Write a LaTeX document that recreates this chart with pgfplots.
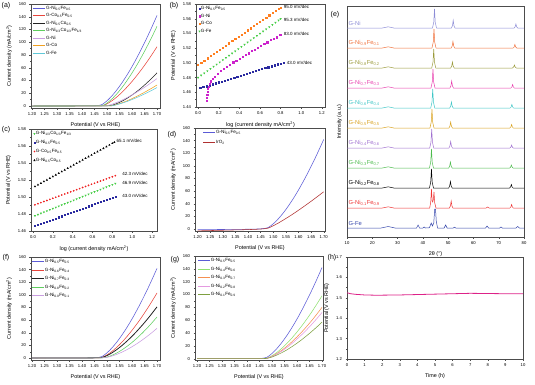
\documentclass[border=0pt]{standalone}
\usepackage{fontspec}
\setmainfont{Liberation Sans}
\usepackage{pgfplots}
\pgfplotsset{compat=1.18}
\newcommand\fs[1]{\fontsize{#1}{#1}\selectfont}
\newcommand\sub[1]{\textsubscript{#1}}
\definecolor{cNiFe}{HTML}{5B5BD6}
\definecolor{cCoFe}{HTML}{E8453C}
\definecolor{cNiCo}{HTML}{222222}
\definecolor{cNCF}{HTML}{5FCE5F}
\definecolor{cNi}{HTML}{C99DE0}
\definecolor{cCo}{HTML}{F0A020}
\definecolor{cFe}{HTML}{5FC8D8}
\definecolor{tNiFe}{HTML}{2A2AA0}
\definecolor{tNi}{HTML}{CC22CC}
\definecolor{tCo}{HTML}{FF7F20}
\definecolor{tFe}{HTML}{44CC44}
\definecolor{tCoFe}{HTML}{EE2222}
\definecolor{gGreen}{HTML}{90E070}
\definecolor{gOrange}{HTML}{F59050}
\definecolor{gPink}{HTML}{E49AE0}
\definecolor{gOlive}{HTML}{7EA040}
\definecolor{IrO}{HTML}{B03030}
\definecolor{x1}{HTML}{8C8CD6}
\definecolor{x2}{HTML}{F0703A}
\definecolor{x3}{HTML}{9A9A3A}
\definecolor{x4}{HTML}{E83FAE}
\definecolor{x5}{HTML}{3FC6C6}
\definecolor{x6}{HTML}{D9A21F}
\definecolor{x7}{HTML}{A070D0}
\definecolor{x8}{HTML}{4CBB4C}
\definecolor{x9}{HTML}{000000}
\definecolor{x10}{HTML}{EE3333}
\definecolor{x11}{HTML}{3344AA}
\definecolor{hmag}{HTML}{DD2288}
\tikzset{lab/.style={anchor=west, font=\fs{5.8}, inner sep=0pt},
  ann/.style={anchor=west, font=\fs{4.5}, inner sep=1pt}}
\pgfplotsset{
  panel/.style={
    scale only axis, anchor=north west,
    axis line style={black!70, line width=0.45pt},
    every tick/.style={black!70, line width=0.35pt},
    major tick length=1.5pt, minor tick length=0.9pt,
    tick align=outside,
    xtick pos=bottom, ytick pos=left,
    tick label style={font=\fs{4.2}},
    label style={font=\fs{5.4}},
    /pgf/number format/assume math mode=true,
    scaled ticks=false,
  },
  lsv/.style={
    ymax=160,
    xtick={1.20,1.25,1.30,1.35,1.40,1.45,1.50,1.55,1.60,1.65,1.70},
    ytick={0,20,40,60,80,100,120,140,160},
    minor x tick num=1, minor y tick num=1,
    xticklabel style={/pgf/number format/fixed, /pgf/number format/fixed zerofill, /pgf/number format/precision=2},
    xlabel={Potential (V vs RHE)},
    ylabel={Current density (mA/cm\textsuperscript{2})},
    every axis plot/.append style={line width=0.55pt, smooth, tension=0.4},
  },
  lleg/.style={
    legend cell align=left,
    legend style={draw=none, fill=none, anchor=north west, font=\fs{4.6},
      inner sep=0pt, row sep=#1,
      nodes={inner sep=0.5pt, text height=3.4pt, text depth=1.1pt}},
    legend image code/.code={\draw[##1, line width=0.6pt] (0pt,0pt) -- (12pt,0pt);},
  },
  mleg/.style={legend image code/.code={\draw[##1] plot coordinates {(2pt,0pt)};}},
  tafel/.style={
    xtick={0,0.2,0.4,0.6,0.8,1.0,1.2},
    ytick={1.44,1.46,1.48,1.50,1.52,1.54,1.56,1.58},
    minor x tick num=1, minor y tick num=1,
    xticklabel style={/pgf/number format/fixed, /pgf/number format/fixed zerofill, /pgf/number format/precision=1},
    yticklabel style={/pgf/number format/fixed, /pgf/number format/fixed zerofill, /pgf/number format/precision=2},
    xlabel={log (current density mA/cm\textsuperscript{2})},
    ylabel={Potential (V vs RHE)},
    legend cell align=left,
    legend style={draw=none, fill=none, anchor=north west, font=\fs{4.6},
      inner sep=0pt, nodes={inner sep=0.7pt, text height=3.4pt, text depth=1.1pt}},
  },
  sq/.style={only marks, mleg, mark=square*, mark size=0.6pt},
  tri/.style={only marks, mleg, mark=triangle*, mark size=0.85pt},
}
\begin{document}
\begin{tikzpicture}
\useasboundingbox (0,0) rectangle (535pt,-384pt);
%% (a)
\begin{axis}[panel, lsv, at={(31pt,-4pt)}, width=129pt, height=104pt,
  xmin=1.196, xmax=1.712, ymin=-3.1, lleg=2.0pt, legend style={at={(0.015,0.99)}}]
\addplot[cNiFe] coordinates {(1.20,0) (1.30,0.1) (1.40,0.2) (1.44,0.3) (1.46,0.6) (1.48,2.3) (1.50,8.2) (1.52,16.1) (1.54,25.6) (1.56,36.5) (1.58,48.6) (1.60,61.8) (1.62,76.1) (1.64,91.3) (1.66,107.3) (1.68,124.3) (1.70,142)};
\addlegendentry{G-Ni\sub{0.5}Fe\sub{0.5}}
\addplot[cCoFe] coordinates {(1.20,0) (1.40,0.1) (1.46,0.2) (1.48,0.4) (1.49,1.6) (1.50,3.4) (1.52,8.3) (1.54,14.4) (1.56,21.6) (1.58,29.7) (1.60,38.5) (1.62,48.1) (1.64,58.4) (1.66,69.3) (1.68,80.9) (1.70,93)};
\addlegendentry{G-Co\sub{0.5}Fe\sub{0.5}}
\addplot[cNiCo] coordinates {(1.20,0) (1.40,0.1) (1.48,0.2) (1.50,0.4) (1.52,1.3) (1.54,4.0) (1.56,7.6) (1.58,12.0) (1.60,17.2) (1.62,23.0) (1.64,29.4) (1.66,36.4) (1.68,43.9) (1.70,52)};
\addlegendentry{G-Ni\sub{0.5}Co\sub{0.5}}
\addplot[cNCF] coordinates {(1.20,0) (1.40,0.1) (1.46,0.2) (1.48,0.5) (1.49,2.0) (1.50,4.6) (1.52,11.2) (1.54,19.4) (1.56,29.0) (1.58,39.9) (1.60,51.8) (1.62,64.6) (1.64,78.5) (1.66,93.2) (1.68,108.7) (1.70,125)};
\addlegendentry{G-Ni\sub{1/3}Co\sub{1/3}Fe\sub{1/3}}
\addplot[cNi] coordinates {(1.20,0) (1.40,0.1) (1.48,0.2) (1.50,0.6) (1.52,2.8) (1.54,5.8) (1.56,9.2) (1.58,13.2) (1.60,17.4) (1.62,22.0) (1.64,26.8) (1.66,32.0) (1.68,37.4) (1.70,43)};
\addlegendentry{G-Ni}
\addplot[cCo] coordinates {(1.20,0) (1.40,0.1) (1.50,0.2) (1.52,0.5) (1.54,2.5) (1.56,5.1) (1.58,8.1) (1.60,11.6) (1.62,15.4) (1.64,19.4) (1.66,23.7) (1.68,28.2) (1.70,33)};
\addlegendentry{G-Co}
\addplot[cFe] coordinates {(1.20,0) (1.40,0.1) (1.50,0.2) (1.52,0.4) (1.54,2.2) (1.56,4.5) (1.58,7.1) (1.60,10.2) (1.62,13.5) (1.64,17.1) (1.66,20.8) (1.68,24.8) (1.70,29)};
\addlegendentry{G-Fe}
\end{axis}
%% (b)
\begin{axis}[panel, tafel, at={(196pt,-4pt)}, width=129pt, height=103pt,
  xmin=-0.02, xmax=1.23, ymin=1.44, ymax=1.58,
  legend style={at={(0.02,0.985)}, row sep=1.6pt}]
\addplot[sq, color=tNiFe] coordinates {(0.02,1.4659) (0.05,1.4672) (0.08,1.4684) (0.11,1.4697) (0.14,1.4710) (0.17,1.4723) (0.20,1.4736) (0.23,1.4749) (0.26,1.4762) (0.29,1.4775) (0.32,1.4788) (0.35,1.4800) (0.38,1.4813) (0.41,1.4826) (0.44,1.4839) (0.47,1.4852) (0.50,1.4865) (0.53,1.4878) (0.56,1.4891) (0.59,1.4904) (0.62,1.4917) (0.65,1.4930) (0.68,1.4942) (0.71,1.4955) (0.74,1.4968) (0.77,1.4981) (0.80,1.4994) (0.83,1.5007)};
\addlegendentry{G-Ni\sub{0.5}Fe\sub{0.5}}
\addplot[sq, color=tNi] coordinates {(0.085,1.449) (0.087,1.453) (0.089,1.457) (0.092,1.461) (0.096,1.465) (0.10,1.468) (0.11,1.472) (0.12,1.475) (0.14,1.478) (0.16,1.481) (0.19,1.485) (0.22,1.489) (0.25,1.492) (0.28,1.495) (0.31,1.498) (0.34,1.501) (0.37,1.503) (0.40,1.506) (0.43,1.508) (0.46,1.511) (0.49,1.513) (0.52,1.516) (0.55,1.518) (0.58,1.521) (0.61,1.523) (0.64,1.526) (0.67,1.528) (0.70,1.531) (0.73,1.533) (0.76,1.535) (0.79,1.538) (0.80,1.5385)};
\addlegendentry{G-Ni}
\addplot[sq, color=tCo] coordinates {(0,1.4975) (0.03,1.5004) (0.06,1.5034) (0.09,1.5063) (0.12,1.5092) (0.15,1.5121) (0.18,1.5151) (0.21,1.5180) (0.24,1.5209) (0.27,1.5238) (0.30,1.5268) (0.33,1.5297) (0.36,1.5326) (0.39,1.5355) (0.42,1.5385) (0.45,1.5414) (0.48,1.5443) (0.51,1.5472) (0.54,1.5502) (0.57,1.5531) (0.60,1.5560) (0.63,1.5589) (0.66,1.5619) (0.69,1.5648) (0.72,1.5677) (0.75,1.5706) (0.78,1.5736) (0.80,1.5755)};
\addlegendentry{G-Co}
\addplot[tri, mark options={rotate=180}, color=tFe] coordinates {(0,1.4800) (0.03,1.4830) (0.06,1.4860) (0.09,1.4890) (0.12,1.4920) (0.15,1.4950) (0.18,1.4979) (0.21,1.5009) (0.24,1.5039) (0.27,1.5069) (0.30,1.5099) (0.33,1.5129) (0.36,1.5159) (0.39,1.5189) (0.42,1.5219) (0.45,1.5249) (0.48,1.5279) (0.51,1.5308) (0.54,1.5338) (0.57,1.5368) (0.60,1.5398) (0.63,1.5428) (0.66,1.5458) (0.69,1.5488) (0.72,1.5518) (0.75,1.5548) (0.78,1.5578) (0.80,1.5598)};
\addlegendentry{G-Fe}
\node[ann] at (axis cs:0.82,1.5755) {95.0 mV/dec};
\node[ann] at (axis cs:0.82,1.559) {95.3 mV/dec};
\node[ann] at (axis cs:0.82,1.540) {83.0 mV/dec};
\node[ann] at (axis cs:0.85,1.5005) {43.0 mV/dec};
\end{axis}
%% (c)
\begin{axis}[panel, tafel, at={(31pt,-129pt)}, width=126pt, height=102pt,
  xmin=-0.02, xmax=1.25, ymin=1.46, ymax=1.58,
  ytick={1.46,1.48,1.50,1.52,1.54,1.56,1.58},
  legend style={at={(0.02,0.985)}, row sep=3.0pt}]
\addplot[tri, mark options={rotate=180}, color=tFe] coordinates {(0.02,1.4779) (0.05,1.4793) (0.08,1.4808) (0.11,1.4822) (0.14,1.4836) (0.17,1.4850) (0.20,1.4864) (0.23,1.4878) (0.26,1.4892) (0.29,1.4906) (0.32,1.4920) (0.35,1.4934) (0.38,1.4948) (0.41,1.4962) (0.44,1.4976) (0.47,1.4990) (0.50,1.5005) (0.53,1.5019) (0.56,1.5033) (0.59,1.5047) (0.62,1.5061) (0.65,1.5075) (0.68,1.5089) (0.71,1.5103) (0.74,1.5117) (0.77,1.5131) (0.80,1.5145) (0.83,1.5159)};
\addlegendentry{G-Ni\sub{1/3}Co\sub{1/3}Fe\sub{1/3}}
\addplot[sq, color=tNiFe] coordinates {(0.02,1.4659) (0.05,1.4672) (0.08,1.4684) (0.11,1.4697) (0.14,1.4710) (0.17,1.4723) (0.20,1.4736) (0.23,1.4749) (0.26,1.4762) (0.29,1.4775) (0.32,1.4788) (0.35,1.4800) (0.38,1.4813) (0.41,1.4826) (0.44,1.4839) (0.47,1.4852) (0.50,1.4865) (0.53,1.4878) (0.56,1.4891) (0.59,1.4904) (0.62,1.4917) (0.65,1.4930) (0.68,1.4942) (0.71,1.4955) (0.74,1.4968) (0.77,1.4981) (0.80,1.4994) (0.83,1.5007)};
\addlegendentry{G-Ni\sub{0.5}Fe\sub{0.5}}
\addplot[only marks, mleg, mark=*, mark size=0.65pt, color=tCoFe] coordinates {(0.02,1.4908) (0.05,1.4921) (0.08,1.4934) (0.11,1.4947) (0.14,1.4959) (0.17,1.4972) (0.20,1.4985) (0.23,1.4997) (0.26,1.5010) (0.29,1.5023) (0.32,1.5035) (0.35,1.5048) (0.38,1.5061) (0.41,1.5073) (0.44,1.5086) (0.47,1.5099) (0.50,1.5112) (0.53,1.5124) (0.56,1.5137) (0.59,1.5150) (0.62,1.5162) (0.65,1.5175) (0.68,1.5188) (0.71,1.5200) (0.74,1.5213) (0.77,1.5226) (0.80,1.5238) (0.83,1.5251)};
\addlegendentry{G-Co\sub{0.5}Fe\sub{0.5}}
\addplot[tri, color=black] coordinates {(0.02,1.5123) (0.05,1.5143) (0.08,1.5162) (0.11,1.5182) (0.14,1.5201) (0.17,1.5221) (0.20,1.5240) (0.23,1.5260) (0.26,1.5279) (0.29,1.5299) (0.32,1.5318) (0.35,1.5338) (0.38,1.5357) (0.41,1.5377) (0.44,1.5396) (0.47,1.5416) (0.50,1.5436) (0.53,1.5455) (0.56,1.5475) (0.59,1.5494) (0.62,1.5514) (0.65,1.5533) (0.68,1.5553) (0.71,1.5572) (0.74,1.5592) (0.77,1.5611) (0.80,1.5631) (0.82,1.5644)};
\addlegendentry{G-Ni\sub{0.5}Co\sub{0.5}}
\node[ann] at (axis cs:0.83,1.5663) {65.1 mV/dec};
\node[ann] at (axis cs:0.89,1.5267) {42.3 mV/dec};
\node[ann] at (axis cs:0.89,1.5165) {46.9 mV/dec};
\node[ann] at (axis cs:0.89,1.5012) {43.0 mV/dec};
\end{axis}
%% (d)
\begin{axis}[panel, lsv, at={(195pt,-128pt)}, width=130pt, height=103pt,
  xmin=1.19, xmax=1.705, ymin=-3.2, lleg=4.2pt, legend style={at={(0.06,0.985)}}]
\addplot[cNiFe] coordinates {(1.20,-1) (1.30,-0.8) (1.40,-0.4) (1.44,0) (1.46,0.6) (1.48,2.3) (1.50,8.2) (1.52,16.1) (1.54,25.6) (1.56,36.5) (1.58,48.6) (1.60,61.8) (1.62,76.1) (1.64,91.3) (1.66,107.3) (1.68,124.3) (1.70,142)};
\addlegendentry{G-Ni\sub{0.5}Fe\sub{0.5}}
\addplot[IrO] coordinates {(1.20,-3) (1.25,-2.5) (1.30,-2) (1.35,-1.5) (1.40,-1) (1.44,-0.3) (1.46,0.2) (1.48,1.4) (1.50,5.1) (1.52,9.4) (1.54,14.2) (1.56,19.1) (1.58,24.3) (1.60,29.7) (1.62,35.3) (1.64,41.0) (1.66,46.9) (1.68,52.9) (1.70,59)};
\addlegendentry{IrO\sub{2}}
\end{axis}
%% (e)
\begin{axis}[panel, at={(347pt,-6pt)}, width=177pt, height=231pt,
  xmin=10, xmax=80, ymin=0, ymax=231, ytick=\empty,
  xtick={10,20,30,40,50,60,70,80}, minor x tick num=1,
  xlabel={2θ (°)}, ylabel={Intensity (a.u.)},
  every axis plot/.append style={line width=0.5pt}]
\addplot[x1] coordinates {(10,209) (24,209) (26.3,210.2) (28.5,209) (43.8,209) (44.3,214.7) (44.6,228) (44.9,214.7) (45.4,209) (51.3,209) (51.7,211.3) (52.0,216.7) (52.3,211.3) (52.7,209) (76.1,209) (76.5,210.2) (76.8,213) (77.1,210.2) (77.5,209) (80,209)};
\addplot[x2] coordinates {(10,189) (24,189) (26.3,190.2) (28.5,189) (43.6,189) (44.1,194.7) (44.4,208) (44.7,194.7) (45.2,189) (51.2,189) (51.6,191) (51.9,195.5) (52.2,191) (52.6,189) (75.7,189) (76.1,190) (76.4,192.5) (76.7,190) (77.1,189) (80,189)};
\addplot[x3] coordinates {(10,169) (24,169) (26.3,170.2) (28.5,169) (43.5,169) (44.0,174.7) (44.3,188) (44.6,174.7) (45.1,169) (51.0,169) (51.4,170.8) (51.7,175) (52.0,170.8) (52.4,169) (75.4,169) (75.9,170) (76.2,172) (76.5,170) (77.0,169) (80,169)};
\addplot[x4] coordinates {(10,149) (24,149) (26.3,150.2) (28.5,149) (43.2,149) (43.7,154.7) (44.0,168) (44.3,154.7) (44.8,149) (50.7,149) (51.1,151.1) (51.4,156) (51.7,151.1) (52.1,149) (74.8,149) (75.2,150) (75.5,152.5) (75.8,150) (76.2,149) (80,149)};
\addplot[x5] coordinates {(10,129) (24,129) (26.3,130.2) (28.5,129) (43.1,129) (43.6,134.7) (43.9,148) (44.2,134.7) (44.7,129) (50.6,129) (51.0,130.8) (51.3,135) (51.6,130.8) (52.0,129) (74.5,129) (74.9,130) (75.2,132.5) (75.5,130) (75.9,129) (80,129)};
\addplot[x6] coordinates {(10,109) (24,109) (26.3,110.2) (28.5,109) (42.8,109) (43.3,114.7) (43.6,128) (43.9,114.7) (44.4,109) (50.3,109) (50.7,110.8) (51.0,115) (51.3,110.8) (51.7,109) (74.4,109) (74.8,110) (75.1,112.5) (75.4,110) (75.8,109) (80,109)};
\addplot[x7] coordinates {(10,89) (24,89) (26.3,90.2) (28.5,89) (42.7,89) (43.2,94.7) (43.5,108) (43.8,94.7) (44.3,89) (50.3,89) (50.7,91) (51.0,95.5) (51.3,91) (51.7,89) (74.4,89) (74.8,89.9) (75.1,92) (75.4,89.9) (75.8,89) (80,89)};
\addplot[x8] coordinates {(10,69) (24,69) (26.3,70.2) (28.5,69) (42.6,69) (43.1,74.7) (43.4,88) (43.7,74.7) (44.2,69) (50.2,69) (50.6,70.8) (50.9,75) (51.2,70.8) (51.6,69) (74.3,69) (74.7,69.9) (75.0,72) (75.3,69.9) (75.7,69) (80,69)};
\addplot[x9] coordinates {(10,49) (24,49) (26.3,50.2) (28.5,49) (42.6,49) (43.1,54.7) (43.4,68) (43.7,54.7) (44.2,49) (50.2,49) (50.6,51) (50.9,55.5) (51.2,51) (51.6,49) (74.3,49) (74.7,50) (75.0,52.5) (75.3,50) (75.7,49) (80,49)};
\addplot[x10] coordinates {(10,29) (24,29) (26.3,30.2) (28.5,29) (42.7,29) (43.1,34.7) (43.4,48) (43.7,36) (43.9,35) (44.1,37) (44.4,45) (44.7,34) (45.2,29) (50.5,29) (50.9,31.1) (51.2,36) (51.5,31.1) (51.9,29) (65.0,29) (65.6,30) (66.2,29) (74.4,29) (74.8,30) (75.1,32.5) (75.4,30) (75.8,29) (80,29)};
\addplot[x11] coordinates {(10,9) (23.5,9) (26.3,10.5) (29,9) (37.5,9) (38.1,12) (38.7,9) (40,9) (40.5,10) (41,9) (42.6,9.3) (43.3,14) (43.8,11) (44.3,14) (44.7,28) (45.0,28) (45.3,16) (45.8,9) (48.4,9) (49.0,12) (49.6,9) (52,9) (52.5,9.8) (53,9) (64.8,9) (65.4,11) (66,9) (70.4,9) (70.9,10) (71.4,9) (76.8,9) (77.5,10.5) (78.2,9) (80,9)};
\node[lab, text=x1] at (axis cs:10.6,214) {G-Ni};
\node[lab, text=x2] at (axis cs:10.6,194) {G-Ni\sub{0.9}Fe\sub{0.1}};
\node[lab, text=x3] at (axis cs:10.6,174) {G-Ni\sub{0.8}Fe\sub{0.2}};
\node[lab, text=x4] at (axis cs:10.6,154) {G-Ni\sub{0.7}Fe\sub{0.3}};
\node[lab, text=x5] at (axis cs:10.6,134) {G-Ni\sub{0.6}Fe\sub{0.4}};
\node[lab, text=x6] at (axis cs:10.6,114) {G-Ni\sub{0.5}Fe\sub{0.5}};
\node[lab, text=x7] at (axis cs:10.6,94) {G-Ni\sub{0.4}Fe\sub{0.6}};
\node[lab, text=x8] at (axis cs:10.6,74) {G-Ni\sub{0.3}Fe\sub{0.7}};
\node[lab, text=x9] at (axis cs:10.6,54) {G-Ni\sub{0.2}Fe\sub{0.8}};
\node[lab, text=x10] at (axis cs:10.6,34) {G-Ni\sub{0.1}Fe\sub{0.9}};
\node[lab, text=x11] at (axis cs:10.6,14) {G-Fe};
\end{axis}
%% (f)
\begin{axis}[panel, lsv, at={(31pt,-257pt)}, width=129pt, height=103pt,
  xmin=1.196, xmax=1.712, ymin=-3.2, lleg=3.0pt, legend style={at={(0.005,0.985)}}]
\addplot[cNiFe] coordinates {(1.20,0) (1.30,0.1) (1.40,0.2) (1.44,0.3) (1.46,0.6) (1.48,2.3) (1.50,8.2) (1.52,16.1) (1.54,25.6) (1.56,36.5) (1.58,48.6) (1.60,61.8) (1.62,76.1) (1.64,91.3) (1.66,107.3) (1.68,124.3) (1.70,142)};
\addlegendentry{G-Ni\sub{0.5}Fe\sub{0.5}}
\addplot[cCoFe] coordinates {(1.20,0) (1.40,0.1) (1.46,0.3) (1.48,0.9) (1.50,4.9) (1.52,10.4) (1.54,17.3) (1.56,25.2) (1.58,34.1) (1.60,43.8) (1.62,54.2) (1.64,65.4) (1.66,77.3) (1.68,89.9) (1.70,103)};
\addlegendentry{G-Ni\sub{0.6}Fe\sub{0.4}}
\addplot[cNiCo, line width=0.8pt] coordinates {(1.20,0) (1.40,0.1) (1.46,0.3) (1.48,0.7) (1.50,3.8) (1.52,8.2) (1.54,13.6) (1.56,19.8) (1.58,26.8) (1.60,34.4) (1.62,42.7) (1.64,51.5) (1.66,60.8) (1.68,70.7) (1.70,81)};
\addlegendentry{G-Ni\sub{0.7}Fe\sub{0.3}}
\addplot[cNCF] coordinates {(1.20,0) (1.40,0.1) (1.48,0.3) (1.50,1.4) (1.52,4.3) (1.54,8.1) (1.56,12.9) (1.58,18.4) (1.60,24.6) (1.62,31.5) (1.64,39.0) (1.66,47.1) (1.68,55.8) (1.70,65)};
\addlegendentry{G-Ni\sub{0.8}Fe\sub{0.2}}
\addplot[cNi] coordinates {(1.20,0) (1.40,0.1) (1.48,0.3) (1.50,1.0) (1.52,3.1) (1.54,5.9) (1.56,9.3) (1.58,13.3) (1.60,17.8) (1.62,22.8) (1.64,28.2) (1.66,34.1) (1.68,40.3) (1.70,47)};
\addlegendentry{G-Ni\sub{0.9}Fe\sub{0.1}}
\end{axis}
%% (g)
\begin{axis}[panel, lsv, at={(195pt,-256pt)}, width=128pt, height=104pt,
  xmin=1.192, xmax=1.704, ymin=-2, lleg=3.0pt, legend style={at={(0.02,0.985)}}]
\addplot[cNiFe] coordinates {(1.20,0) (1.30,0.1) (1.40,0.2) (1.44,0.3) (1.46,0.6) (1.48,2.3) (1.50,8.2) (1.52,16.1) (1.54,25.6) (1.56,36.5) (1.58,48.6) (1.60,61.8) (1.62,76.1) (1.64,91.3) (1.66,107.3) (1.68,124.3) (1.70,142)};
\addlegendentry{G-Ni\sub{0.5}Fe\sub{0.5}}
\addplot[gGreen] coordinates {(1.20,0) (1.40,0.1) (1.46,0.3) (1.48,0.9) (1.50,4.7) (1.52,9.9) (1.54,16.5) (1.56,24.0) (1.58,32.4) (1.60,41.7) (1.62,51.6) (1.64,62.2) (1.66,73.5) (1.68,85.5) (1.70,98)};
\addlegendentry{G-Ni\sub{0.4}Fe\sub{0.6}}
\addplot[gOrange] coordinates {(1.20,0) (1.40,0.1) (1.46,0.3) (1.48,0.7) (1.50,3.8) (1.52,8.1) (1.54,13.4) (1.56,19.6) (1.58,26.5) (1.60,34.0) (1.62,42.1) (1.64,50.8) (1.66,60.0) (1.68,69.8) (1.70,80)};
\addlegendentry{G-Ni\sub{0.3}Fe\sub{0.7}}
\addplot[gPink] coordinates {(1.20,0) (1.40,0.1) (1.46,0.3) (1.48,0.6) (1.50,3.4) (1.52,7.3) (1.54,12.1) (1.56,17.6) (1.58,23.8) (1.60,30.6) (1.62,37.9) (1.64,45.7) (1.66,54.0) (1.68,62.8) (1.70,72)};
\addlegendentry{G-Ni\sub{0.2}Fe\sub{0.8}}
\addplot[gOlive] coordinates {(1.20,0) (1.40,0.1) (1.46,0.3) (1.48,0.5) (1.50,2.7) (1.52,5.8) (1.54,9.6) (1.56,13.9) (1.58,18.9) (1.60,24.2) (1.62,30.0) (1.64,36.2) (1.66,42.8) (1.68,49.7) (1.70,57)};
\addlegendentry{G-Ni\sub{0.1}Fe\sub{0.9}}
\end{axis}
%% (h)
\begin{axis}[panel, at={(347pt,-257pt)}, width=176pt, height=102pt,
  xmin=0, xmax=10, ymin=1.2, ymax=1.7,
  xtick={0,1,2,3,4,5,6,7,8,9,10}, ytick={1.2,1.3,1.4,1.5,1.6,1.7},
  minor x tick num=1, minor y tick num=1,
  yticklabel style={/pgf/number format/fixed, /pgf/number format/fixed zerofill, /pgf/number format/precision=1},
  xlabel={Time (h)}, ylabel={Potential (V vs RHE)}]
\addplot[hmag, line width=0.8pt] coordinates {(0,1.525) (0.2,1.520) (0.5,1.517) (1,1.514) (1.5,1.513) (2,1.513) (3,1.514) (4,1.516) (5,1.518) (6,1.520) (7,1.522) (8,1.521) (9,1.520) (10,1.520)};
\end{axis}
%% panel labels
\begin{scope}[every node/.style={font=\fs{7}, inner sep=0pt}]
\node at (6pt,-6pt) {(a)};
\node at (174pt,-6pt) {(b)};
\node at (335pt,-15pt) {(e)};
\node at (6pt,-130pt) {(c)};
\node at (172pt,-135pt) {(d)};
\node at (6pt,-258pt) {(f)};
\node at (175pt,-260pt) {(g)};
\node at (332pt,-258pt) {(h)};
\end{scope}
\end{tikzpicture}
\end{document}
